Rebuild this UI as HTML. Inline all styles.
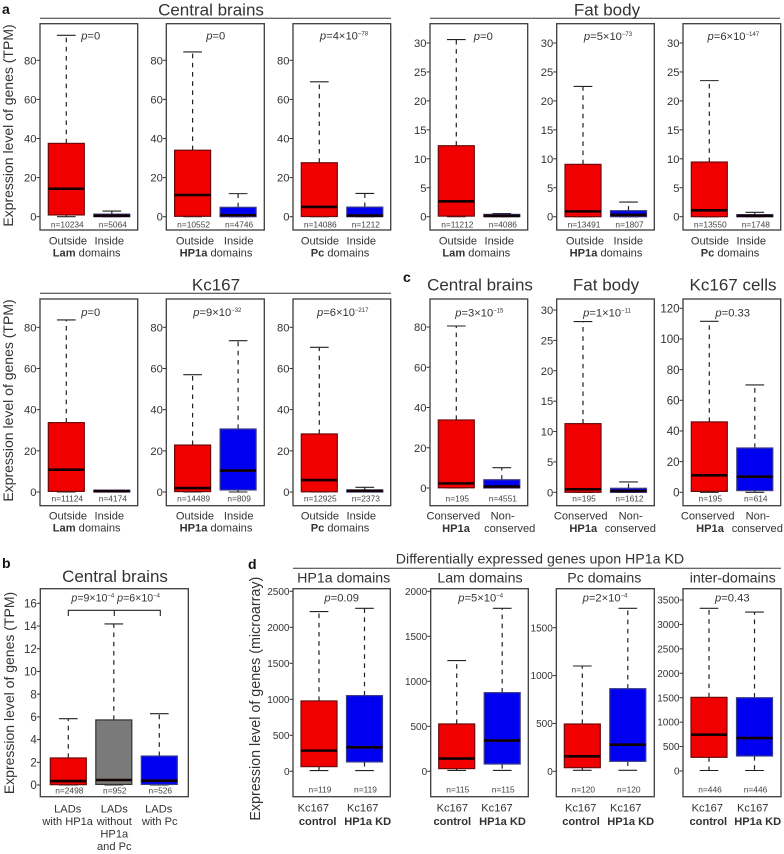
<!DOCTYPE html>
<html lang="en">
<head>
<meta charset="utf-8">
<title>Expression level of genes by chromatin domain</title>
<style>
html,body{margin:0;padding:0;background:#fff;width:784px;height:854px;overflow:hidden}
svg{display:block;font-family:"Liberation Sans",Arial,sans-serif;fill:#333}
text{fill:#333}
.bold{font-weight:700}
.title{font-size:17px;text-anchor:middle}
.subtitle{font-size:14.2px;text-anchor:middle}
.plabel{font-size:11.2px;text-anchor:middle}
.xl{font-size:11.1px;text-anchor:middle}
.tag{font-size:14px;font-weight:700;fill:#111}
.rule{stroke:#333;stroke-width:1;fill:none}
</style>
</head>
<body>
<svg id="figure" xmlns="http://www.w3.org/2000/svg" width="784" height="854" viewBox="0 0 784 854">
  <text class="tag" x="2" y="14">a</text>
  <text class="tag" x="403" y="282">c</text>
  <text class="tag" x="2" y="568">b</text>
  <text class="tag" x="248" y="569">d</text>

  <text class="title" x="211" y="15.5">Central brains</text>
  <line class="rule" x1="40" x2="391" y1="18.3" y2="18.3"/>
  <text class="title" x="607" y="15.5">Fat body</text>
  <line class="rule" x1="430" x2="780" y1="18.3" y2="18.3"/>
  <text class="title" x="216" y="290.5">Kc167</text>
  <line class="rule" x1="40" x2="391" y1="293.3" y2="293.3"/>
  <text class="title" x="480" y="290.5">Central brains</text>
  <text class="title" x="606" y="290.5">Fat body</text>
  <text class="title" x="733" y="290.5">Kc167 cells</text>
  <text class="title" x="115" y="582">Central brains</text>
  <text class="subtitle" x="540" y="563.3">Differentially expressed genes upon HP1a KD</text>
  <line class="rule" x1="293" x2="781" y1="568.3" y2="568.3"/>
  <text class="subtitle" x="343.7" y="582.7">HP1a domains</text>
  <text class="subtitle" x="480" y="582.7">Lam domains</text>
  <text class="subtitle" x="604.3" y="582.7">Pc domains</text>
  <text class="subtitle" x="732.7" y="582.7">inter-domains</text>

  <text font-size="14" text-anchor="middle" transform="translate(13,125.5) rotate(-90)">Expression level of genes (TPM)</text>
  <text font-size="14" text-anchor="middle" transform="translate(13,400.5) rotate(-90)">Expression level of genes (TPM)</text>
  <text font-size="14" text-anchor="middle" transform="translate(14,693) rotate(-90)">Expression level of genes (TPM)</text>
  <text font-size="14.3" text-anchor="middle" transform="translate(260,698.7) rotate(-90)">Expression level of genes (microarray)</text>

  <g>
    <text class="xl" x="86.7" y="256.7"><tspan class="bold">Lam</tspan> domains</text>
    <text class="xl" x="216" y="256.7"><tspan class="bold">HP1a</tspan> domains</text>
    <text class="xl" x="340" y="256.7"><tspan class="bold">Pc</tspan> domains</text>
    <text class="xl" x="476.3" y="256.7"><tspan class="bold">Lam</tspan> domains</text>
    <text class="xl" x="606" y="256.7"><tspan class="bold">HP1a</tspan> domains</text>
    <text class="xl" x="730" y="256.7"><tspan class="bold">Pc</tspan> domains</text>
    <text class="xl" x="86.7" y="531.7"><tspan class="bold">Lam</tspan> domains</text>
    <text class="xl" x="216" y="531.7"><tspan class="bold">HP1a</tspan> domains</text>
    <text class="xl" x="340" y="531.7"><tspan class="bold">Pc</tspan> domains</text>
    <text class="xl bold" x="456" y="532">HP1a</text>
    <text class="xl" x="509.7" y="532">conserved</text>
    <text class="xl bold" x="583.3" y="532">HP1a</text>
    <text class="xl" x="630.3" y="532">conserved</text>
    <text class="xl bold" x="710" y="532">HP1a</text>
    <text class="xl" x="757.3" y="532">conserved</text>
    <text class="xl" x="67.7" y="825">with HP1a</text>
    <text class="xl" x="114.3" y="825">without</text>
    <text class="xl" x="114.3" y="837.7">HP1a</text>
    <text class="xl" x="114.3" y="850">and Pc</text>
    <text class="xl" x="159.7" y="825">with Pc</text>
    <text class="xl bold" x="317.7" y="825">control</text>
    <text class="xl bold" x="367.7" y="825">HP1a KD</text>
    <text class="xl bold" x="452.3" y="825">control</text>
    <text class="xl bold" x="502.5" y="825">HP1a KD</text>
    <text class="xl bold" x="581" y="825">control</text>
    <text class="xl bold" x="630.7" y="825">HP1a KD</text>
    <text class="xl bold" x="708.3" y="825">control</text>
    <text class="xl bold" x="757.7" y="825">HP1a KD</text>
  </g>

  <g fill="none" stroke="#222" stroke-width="1.1">
    <path d="M68.3 616V610.3H160.3V616M114.3 610.3V616"/>
  </g>
  <g id="panels"></g>
</svg>
<script>
// ---------- data (one entry per panel, one value per box) ----------
const panelNames = ['brain-lam','brain-hp1a','brain-pc','fat-lam','fat-hp1a','fat-pc','kc-lam','kc-hp1a','kc-pc','c-brain','c-fat','c-kc','b-lads','d-hp1a','d-lam','d-pc','d-inter'];
const categories = [
  ['Outside','Inside'],['Outside','Inside'],['Outside','Inside'],
  ['Outside','Inside'],['Outside','Inside'],['Outside','Inside'],
  ['Outside','Inside'],['Outside','Inside'],['Outside','Inside'],
  ['Conserved','Non-'],['Conserved','Non-'],['Conserved','Non-'],
  ['LADs','LADs','LADs'],
  ['Kc167','Kc167'],['Kc167','Kc167'],['Kc167','Kc167'],['Kc167','Kc167']
];
const nLabels = [
  ['n=10234','n=5064'],['n=10552','n=4746'],['n=14086','n=1212'],
  ['n=11212','n=4086'],['n=13491','n=1807'],['n=13550','n=1748'],
  ['n=11124','n=4174'],['n=14489','n=809'],['n=12925','n=2373'],
  ['n=195','n=4551'],['n=195','n=1612'],['n=195','n=614'],
  ['n=2498','n=952','n=526'],
  ['n=119','n=119'],['n=115','n=115'],['n=120','n=120'],['n=446','n=446']
];
const pTexts = ['=0','=0','=4×10','=0','=5×10','=6×10','=0','=9×10','=6×10','=3×10','=1×10','=0.33','','=0.09','=5×10','=2×10','=0.43'];
const pExponents = ['','','−78','','−73','−147','','−32','−217','−15','−11','','','','−4','−4',''];
const whiskerHigh = [
  [92.8,2.9],[84.3,11.8],[69,11.9],
  [30.6,0.55],[22.5,2.53],[23.5,0.75],
  [83.6,0.8],[57,73.5],[70.3,2.3],
  [80.5,10.1],[28.1,1.7],[111.5,70],
  [5.84,14.18,6.28],
  [2218,2264],[1230,1811],[1100,1702],[3329,3254]
];
const upperQuartile = [
  [37.5,1.3],[34,4.8],[27.6,4.9],
  [12.26,0.4],[9.04,1.04],[9.44,0.35],
  [33.7,0.9],[22.8,30.6],[28.2,1],
  [33.8,4.1],[11.3,0.66],[45.9,28.9],
  [2.38,5.73,2.55],
  [977,1051],[526,874],[494,863],[1507,1500]
];
const medians = [
  [14.3,0.5],[11.1,0.8],[5,0.6],
  [2.65,0.15],[0.92,0.3],[1.1,0.15],
  [10.85,0.4],[1.9,10.4],[5.8,0.6],
  [2.3,0.7],[0.5,0.2],[11.1,10.2],
  [0.35,0.44,0.38],
  [287,333],[141,341],[157,278],[743,675]
];
const lowerQuartile = [
  [0.9,0],[0.2,0],[0.1,0],
  [0.1,0],[0,0],[0,0],
  [0.3,0],[0.2,1],[0.1,0],
  [0.1,0],[0,0],[0.6,1.1],
  [0.03,0.05,0.05],
  [65,130],[30,81],[38,104],[280,307]
];
const whiskerLow = [
  [0,0],[0,0],[0,0],
  [0,0],[0,0],[0,0],
  [0,0],[0,0],[0,0],
  [0,0],[0,0],[0,0],
  [0,0,0],
  [10,10],[10,10],[10,10],[10,10]
];
const yTickLabels = [
  [0,20,40,60,80],[0,20,40,60,80],[0,20,40,60,80],
  [0,5,10,15,20,25,30],[0,5,10,15,20,25,30],[0,5,10,15,20,25,30],
  [0,20,40,60,80],[0,20,40,60,80],[0,20,40,60,80],
  [0,20,40,60,80],[0,5,10,15,20,25,30],[0,20,40,60,80,100,120],
  [0,2,4,6,8,10,12,14,16],
  [0,500,1000,1500,2000,2500],[0,500,1000,1500,2000],[0,500,1000,1500],[0,500,1000,1500,2000,2500,3000,3500]
];

// ---------- layout (pixel geometry only) ----------
const RB = ['#f00000','#0000f0'];
const RGB3 = ['#f00000','#7a7a7a','#0000f0'];
const rowA = {top:23.7,bottom:230,catY:244.3,nY:227.7};
const rowK = {top:299,bottom:505.7,catY:519.3,nY:501.7};
const rowD = {top:588.7,bottom:796.7,catY:811.7,nY:792.7};
const layout = [
  {...rowA,left:40,right:137.7,zero:216.7,topTick:60.3,catX:[68,109.3],pX:90.7,pY:39.3,off:8.3,colors:RB,tf:11.2},
  {...rowA,left:166.3,right:264.3,zero:216.7,topTick:60.3,catX:[195,238.7],pX:215.7,pY:39.3,off:8.3,colors:RB,tf:11.2},
  {...rowA,left:293,right:390.7,zero:216.7,topTick:60.3,catX:[320,361.3],pX:344,pY:39.3,off:8.3,colors:RB,tf:11.2},
  {...rowA,left:430,right:527.7,zero:216.7,topTick:43,catX:[458,499.3],pX:483.3,pY:40,off:8.3,colors:RB,tf:11.2},
  {...rowA,left:556.7,right:654.3,zero:216.7,topTick:43,catX:[585,628.3],pX:608,pY:40,off:8.3,colors:RB,tf:11.2},
  {...rowA,left:683,right:780.7,zero:216.7,topTick:43,catX:[710,751.3],pX:733.3,pY:40,off:8.3,colors:RB,tf:11.2},
  {...rowK,left:40,right:137.7,zero:492,topTick:327.3,catX:[68,109.3],pX:90.7,pY:316,off:8.3,colors:RB,tf:11.2},
  {...rowK,left:166.3,right:264.3,zero:492,topTick:327.3,catX:[195,238.7],pX:217.3,pY:316,off:8.3,colors:RB,tf:11.2},
  {...rowK,left:293,right:390.7,zero:492,topTick:327.3,catX:[320,361.3],pX:342.7,pY:316,off:8.3,colors:RB,tf:11.2},
  {...rowK,left:430,right:527.7,zero:488,topTick:327,catX:[453.3,502.7],pX:479.3,pY:316.7,off:8.3,colors:RB,tf:11.2},
  {...rowK,left:556.7,right:654.3,zero:492.3,topTick:310,catX:[580.7,630.7],pX:607,pY:316.7,off:8.3,colors:RB,tf:11.2},
  {...rowK,left:683,right:780.7,zero:492.3,topTick:308.3,catX:[707.7,757.7],pX:732.7,pY:316.7,off:8.3,colors:RB,tf:11.5},
  {top:588.7,bottom:796.7,catY:812.7,nY:793.3,left:40.3,right:188.3,zero:785,topTick:603.3,catX:[67.7,114.3,158.7],pX:0,pY:0,off:10,colors:RGB3,tf:11.5},
  {...rowD,left:293,right:390.3,zero:771.3,topTick:591.3,catX:[313.3,362.7],pX:341.7,pY:601.7,off:8,colors:RB,tf:10},
  {...rowD,left:430.7,right:528.3,zero:771.3,topTick:591.3,catX:[452.3,497],pX:480.7,pY:601.7,off:8,colors:RB,tf:10},
  {...rowD,left:556.3,right:654.3,zero:771.3,topTick:627.7,catX:[580.7,625.7],pX:605,pY:601.7,off:8,colors:RB,tf:10},
  {...rowD,left:683,right:781,zero:771,topTick:600,catX:[707.3,752.7],pX:732.3,pY:601.7,off:8,colors:RB,tf:10}
];
const BOX_W = 36;
const BOX_STEP = 45.5;
const CAP_W = 18.7;
const NS = 'http://www.w3.org/2000/svg';

function mk(parent, tag, attrs, txt) {
  const el = document.createElementNS(NS, tag);
  for (const k in attrs) el.setAttribute(k, attrs[k]);
  if (txt !== undefined) el.textContent = txt;
  parent.appendChild(el);
  return el;
}
function outlineFor(color) {
  if (color === '#f00000') return '#6e0a0a';
  if (color === '#0000f0') return '#3a3a8a';
  return '#333333';
}
function drawBox(g, L, yOf, p, b) {
  const x = L.left + L.off + b * BOX_STEP;
  const cx = x + BOX_W / 2;
  const color = L.colors[b];
  const box = mk(g, 'g', {});
  
  
  const hi = yOf(whiskerHigh[p][b]), q3 = yOf(upperQuartile[p][b]);
  const md = yOf(medians[p][b]), q1 = yOf(lowerQuartile[p][b]), lo = yOf(whiskerLow[p][b]);
  const dash = {stroke:'#222','stroke-width':1.2,'stroke-dasharray':'4.6 4.6'};
  mk(box, 'line', {x1:cx,x2:cx,y1:q3,y2:hi,...dash});
  mk(box, 'line', {x1:cx,x2:cx,y1:q1,y2:lo,...dash});
  mk(box, 'line', {x1:cx-CAP_W/2,x2:cx+CAP_W/2,y1:hi,y2:hi,stroke:'#222','stroke-width':1.1});
  mk(box, 'line', {x1:cx-CAP_W/2,x2:cx+CAP_W/2,y1:lo,y2:lo,stroke:'#222','stroke-width':1.1});
  mk(box, 'rect', {x:x,y:q3,width:BOX_W,height:Math.max(q1-q3,0.3),fill:color,stroke:outlineFor(color),'stroke-width':1.2});
  mk(box, 'line', {x1:x,x2:x+BOX_W,y1:md,y2:md,stroke:'#120000','stroke-width':2.6});
  const nLab = mk(g, 'text', {x:cx+1,y:L.nY,'font-size':8.4,'text-anchor':'middle',style:'fill:#444'}, nLabels[p][b]);
  
  
  const cat = mk(g, 'text', {x:L.catX[b],y:L.catY,class:'xl'}, categories[p][b]);
  
  
}
function drawPanel(root, p) {
  const L = layout[p];
  const ticks = yTickLabels[p];
  const maxTick = ticks[ticks.length - 1];
  const yOf = v => L.zero - (v / maxTick) * (L.zero - L.topTick);
  const g = mk(root, 'g', {});
  
  
  ticks.forEach(t => {
    const y = yOf(t);
    mk(g, 'line', {x1:L.left-3.5,x2:L.left,y1:y,y2:y,stroke:'#333','stroke-width':1});
    const lab = mk(g, 'text', {x:L.left-3.5,y:y+L.tf*0.36,'font-size':L.tf,'text-anchor':'end'}, String(t));
    
    
  });
  categories[p].forEach((_, b) => drawBox(g, L, yOf, p, b));
  const frame = mk(g, 'rect', {x:L.left,y:L.top,width:L.right-L.left,height:L.bottom-L.top,fill:'none',stroke:'#3c3c3c','stroke-width':1.3});
  
  
  if (pTexts[p]) {
    const t = mk(g, 'text', {x:L.pX,y:L.pY,class:'plabel'});
    
    
    mk(t, 'tspan', {'font-style':'italic'}, 'p');
    mk(t, 'tspan', {}, pTexts[p]);
    if (pExponents[p]) mk(t, 'tspan', {dy:-4,'font-size':6}, pExponents[p]);
  }
}
const panelsRoot = document.getElementById('panels');
panelNames.forEach((_, p) => drawPanel(panelsRoot, p));

// b panel carries a double p-value above its bracket
const bP = mk(panelsRoot, 'text', {x:115.7,y:601.7,'font-size':10.6,'text-anchor':'middle'});


mk(bP, 'tspan', {'font-style':'italic'}, 'p');
mk(bP, 'tspan', {}, '=9×10');
mk(bP, 'tspan', {dy:-4,'font-size':6}, '−4');
mk(bP, 'tspan', {dy:4}, '  ');
mk(bP, 'tspan', {'font-style':'italic'}, 'p');
mk(bP, 'tspan', {}, '=6×10');
mk(bP, 'tspan', {dy:-4,'font-size':6}, '−4');
</script>
</body>
</html>
